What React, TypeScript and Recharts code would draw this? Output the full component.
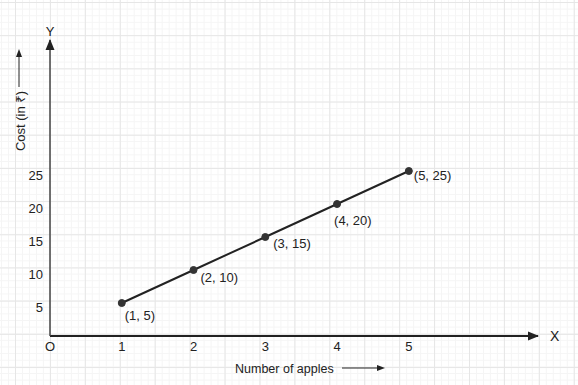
import { LabelList, Line, LineChart, ReferenceDot, XAxis, YAxis } from "recharts";

const APPLES = [1, 2, 3, 4, 5];
const COST = [5, 10, 15, 20, 25];
const X_TICKS = [0, 1, 2, 3, 4, 5];
const Y_TICKS = [5, 10, 15, 20, 25];

const X_MAX = 6.8;
const Y_MAX = 44.85;

// label placement next to each point (dx, dy from the dot)
const LABEL_OFFSETS = [
  [3, 17],
  [7, 12],
  [8, 10.5],
  [-3, 20.5],
  [5, 8.5],
];

const FONT = "'Liberation Sans', Arial, 'DejaVu Sans', sans-serif";
const INK = "#222";

const data = APPLES.map((x, i) => ({ x, cost: COST[i] }));

const gridBg = {
  backgroundColor: "#fff",
  backgroundImage: [
    "linear-gradient(to right, #e6e6e6 1px, transparent 1px)",
    "linear-gradient(to bottom, #e6e6e6 1px, transparent 1px)",
    "linear-gradient(to right, #f5f5f5 1px, transparent 1px)",
    "linear-gradient(to bottom, #f5f5f5 1px, transparent 1px)",
  ].join(","),
  backgroundSize: "34.93px 100%, 100% 33.2px, 6.986px 100%, 100% 6.64px",
  backgroundPosition: "15px 0, 0 2px, 15px 0, 0 2px",
};

const XTick = ({ x, y, payload }: any) => (
  <text x={x} y={y + 15} textAnchor="middle" fontSize={13} fill={INK} fontFamily={FONT}>
    {payload.value === 0 ? "O" : payload.value}
  </text>
);

const YTick = ({ x, y, payload }: any) => (
  <text x={x} y={y + 8.5} textAnchor="end" fontSize={13} fill={INK} fontFamily={FONT}>
    {payload.value}
  </text>
);

const PointLabel = ({ x, y, index }: any) => {
  const [dx, dy] = LABEL_OFFSETS[index];
  return (
    <text x={x + dx} y={y + dy} fontSize={13} fill={INK} fontFamily={FONT}>
      {`(${APPLES[index]}, ${COST[index]})`}
    </text>
  );
};

const XArrow = ({ cx, cy }: any) => (
  <g>
    <path d={`M${cx + 1},${cy} L${cx - 10},${cy - 4.5} L${cx - 10},${cy + 4.5} Z`} fill={INK} />
    <text x={cx + 12} y={cy + 5} fontSize={14} fill={INK} fontFamily={FONT}>
      X
    </text>
  </g>
);

const YArrow = ({ cx, cy }: any) => (
  <g>
    <path d={`M${cx},${cy - 1} L${cx - 4.5},${cy + 10} L${cx + 4.5},${cy + 10} Z`} fill={INK} />
    <text x={cx} y={cy - 4} textAnchor="middle" fontSize={13} fill={INK} fontFamily={FONT}>
      Y
    </text>
  </g>
);

const XTitle = () => (
  <g>
    <text x={235} y={372.5} fontSize={12.5} fill={INK} fontFamily={FONT}>
      Number of apples
    </text>
    <line x1={342} y1={368} x2={378} y2={368} stroke={INK} strokeWidth={1} />
    <path d="M385,368 L377,365 L377,371 Z" fill={INK} />
  </g>
);

const YTitle = () => (
  <g>
    <text
      x={20}
      y={121}
      transform="rotate(-90 20 121)"
      textAnchor="middle"
      dominantBaseline="central"
      fontSize={13}
      fill={INK}
      fontFamily={FONT}
    >
      Cost (in <tspan fontFamily="'Noto Sans', 'DejaVu Sans', sans-serif">₹</tspan>)
    </text>
    <line x1={19} y1={87} x2={19} y2={56} stroke={INK} strokeWidth={1} />
    <path d="M19,49 L16,57 L22,57 Z" fill={INK} />
  </g>
);

export default function App() {
  return (
    <>
      <style>{`body{margin:0}`}</style>
      <div style={{ width: 578, height: 385, ...gridBg }}>
        <LineChart width={578} height={385} data={data} margin={{ top: 40, right: 40, left: 0, bottom: 19 }}>
          <XAxis
            type="number"
            dataKey="x"
            domain={[0, X_MAX]}
            ticks={X_TICKS}
            interval={0}
            height={30}
            tickSize={0}
            tickMargin={0}
            tick={<XTick />}
            axisLine={{ stroke: INK, strokeWidth: 2 }}
            tickLine={false}
            label={{ content: () => <XTitle /> }}
          />
          <YAxis
            type="number"
            domain={[0, Y_MAX]}
            ticks={Y_TICKS}
            interval={0}
            width={50}
            tickSize={0}
            tickMargin={7}
            tick={<YTick />}
            axisLine={{ stroke: "#444", strokeWidth: 1.5 }}
            tickLine={false}
            label={{ content: () => <YTitle /> }}
          />
          <ReferenceDot x={X_MAX} y={0} r={0} shape={<XArrow />} ifOverflow="visible" />
          <ReferenceDot x={0} y={Y_MAX} r={0} shape={<YArrow />} ifOverflow="visible" />
          <Line
            dataKey="cost"
            stroke={INK}
            strokeWidth={2}
            dot={{ r: 3.5, fill: "#333", stroke: "#333", strokeWidth: 1 }}
            isAnimationActive={false}
          >
            <LabelList dataKey="cost" content={<PointLabel />} />
          </Line>
        </LineChart>
      </div>
    </>
  );
}
